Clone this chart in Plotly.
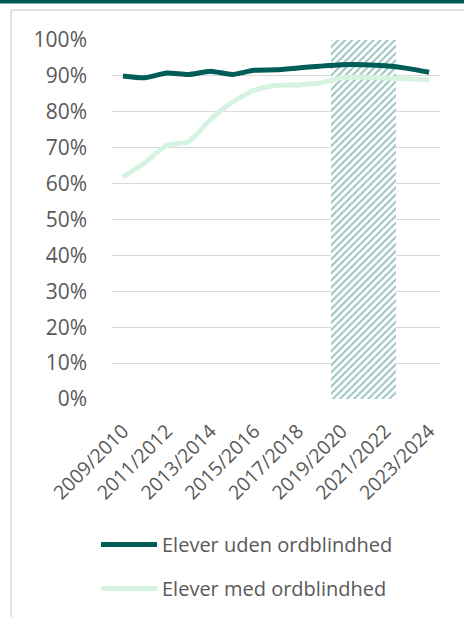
import plotly.graph_objects as go

years = ["2009/2010", "2010/2011", "2011/2012", "2012/2013", "2013/2014", "2014/2015",
         "2015/2016", "2016/2017", "2017/2018", "2018/2019", "2019/2020", "2020/2021",
         "2021/2022", "2022/2023", "2023/2024"]
uden = [90.0, 89.5, 90.8, 90.4, 91.3, 90.4, 91.6, 91.7, 92.2, 92.7, 93.1, 93.1, 92.8, 92.1, 91.0]
med = [61.8, 65.8, 70.6, 71.7, 77.8, 82.7, 86.0, 87.3, 87.5, 88.0, 89.5, 89.6, 89.4, 89.2, 88.9]
covid_center = ["2020/2021"]
covid_value = [100]
covid_span = 3
tick_labels = years[::2]

DARK = "#005c57"
LIGHT = "#d6f3e1"
TEXT = "#595959"
FONT = "Open Sans"

fig = go.Figure()
fig.add_trace(go.Bar(
    x=covid_center, y=covid_value, width=[covid_span], showlegend=False,
    marker=dict(color="white", line=dict(width=0),
                pattern=dict(shape="/", size=5, solidity=0.4,
                             fgcolor="#2f8680", bgcolor="white")),
    hoverinfo="skip"))
fig.add_trace(go.Scatter(
    x=years, y=uden, mode="lines", name="Elever uden ordblindhed",
    line=dict(color=DARK, width=5, shape="spline", smoothing=0.6),
    legendgroup="a"))
fig.add_trace(go.Scatter(
    x=years, y=med, mode="lines", name="Elever med ordblindhed",
    line=dict(color=LIGHT, width=5, shape="spline", smoothing=0.6),
    legendgroup="b"))

W, H = 464, 617
L, R, T, B = 112, 24, 40, 218
pw, ph = W - L - R, H - T - B

def px_x(p):
    return (p - L) / pw

def px_y(p):
    return (H - B - p) / ph

fig.update_layout(
    width=W, height=H,
    margin=dict(l=L, r=R, t=T, b=B, pad=0, autoexpand=False),
    paper_bgcolor="white", plot_bgcolor="white",
    font=dict(family=FONT, color=TEXT, size=19),
    bargap=0,
    showlegend=True,
    legend=dict(x=px_x(96), y=px_y(525), xanchor="left", yanchor="top",
                orientation="v", tracegroupgap=15, itemwidth=56,
                font=dict(size=20, color=TEXT), bgcolor="rgba(0,0,0,0)"),
    xaxis=dict(type="category", categoryorder="array", categoryarray=years,
               tickvals=tick_labels, ticktext=tick_labels, tickangle=-45,
               showgrid=False, showline=False, zeroline=False, ticks="",
               ticklabelstandoff=16, automargin=False,
               range=[-0.5, len(years) - 0.5],
               tickfont=dict(size=19.5, color=TEXT, family=FONT)),
    yaxis=dict(range=[0, 100], dtick=10, ticksuffix="%", showgrid=True,
               gridcolor="#d9d9d9", gridwidth=1.3, zeroline=False, showline=False,
               ticks="", ticklabelstandoff=24, automargin=False,
               tickfont=dict(size=21, color=TEXT, family=FONT)),
    shapes=[
        dict(type="line", xref="paper", yref="paper", x0=px_x(11), x1=px_x(11),
             y0=px_y(10), y1=px_y(640), line=dict(color="#d9d9d9", width=1.5)),
        dict(type="line", xref="paper", yref="paper", x0=px_x(11), x1=px_x(480),
             y0=px_y(10), y1=px_y(10), line=dict(color="#d9d9d9", width=1.5)),
        dict(type="rect", xref="paper", yref="paper", x0=px_x(-10), x1=px_x(480),
             y0=px_y(3.5), y1=px_y(-5), fillcolor="#005a56", line=dict(width=0)),
    ],
)

fig.write_html("out.html", config={"displayModeBar": False},
               post_script="document.body.style.margin='0px';document.body.style.padding='0px';")
